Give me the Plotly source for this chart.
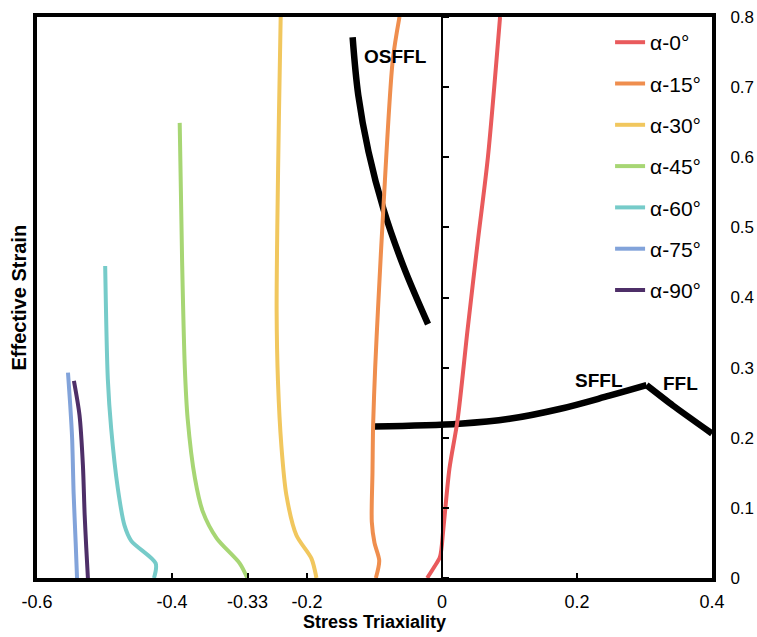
import plotly.graph_objects as go

# ---------------- data ----------------
names = ["α-0°", "α-15°", "α-30°", "α-45°", "α-60°", "α-75°", "α-90°"]
colors = ["#E95A5C", "#EF8E4E", "#F1C75E", "#A7D674", "#76CBC9", "#82A3DA", "#4E2F68"]

a0_x = [-0.022, -0.012, -0.003, 0.002, 0.011, 0.023, 0.038, 0.053, 0.068, 0.086]
a0_y = [0.0, 0.015, 0.03, 0.07, 0.156, 0.225, 0.355, 0.48, 0.6, 0.8]

a15_x = [-0.098, -0.093, -0.100, -0.104, -0.103, -0.102, -0.099, -0.095, -0.087, -0.073, -0.063]
a15_y = [0.0, 0.025, 0.05, 0.08, 0.15, 0.22, 0.30, 0.38, 0.525, 0.738, 0.8]

a30_x = [-0.186, -0.1935, -0.2157, -0.2305, -0.238, -0.243, -0.245, -0.244, -0.2415, -0.239]
a30_y = [0.0, 0.028, 0.061, 0.118, 0.189, 0.28, 0.38, 0.5, 0.664, 0.8]

a45_x = [-0.2884, -0.2997, -0.334, -0.3545, -0.366, -0.3768, -0.381, -0.385, -0.3886]
a45_y = [0.0, 0.021, 0.057, 0.095, 0.142, 0.227, 0.30, 0.45, 0.649]

a60_x = [-0.4267, -0.4242, -0.4604, -0.4704, -0.4803, -0.4901, -0.4951, -0.499]
a60_y = [0.0, 0.021, 0.053, 0.075, 0.128, 0.213, 0.284, 0.445]

a75_x = [-0.5407, -0.5427, -0.5457, -0.548, -0.551, -0.5541]
a75_y = [0.0, 0.05, 0.12, 0.2, 0.25, 0.293]

a90_x = [-0.5246, -0.527, -0.5294, -0.532, -0.537, -0.5453]
a90_y = [0.0, 0.043, 0.09, 0.161, 0.232, 0.281]

osffl_x = [-0.1324, -0.1241, -0.1089, -0.0867, -0.0569, -0.0207]
osffl_y = [0.771, 0.689, 0.608, 0.526, 0.444, 0.362]

sffl_x = [-0.100, 0.026, 0.100, 0.174, 0.248, 0.303]
sffl_y = [0.216, 0.220, 0.227, 0.241, 0.260, 0.275]

ffl_x = [0.303, 0.342, 0.400]
ffl_y = [0.275, 0.246, 0.206]

x_tickvals = [-0.6, -0.4, -0.288, -0.2, 0, 0.2, 0.4]
x_ticktext = ["-0.6", "-0.4", "-0.33", "-0.2", "0", "0.2", "0.4"]
y_tickvals = [0, 0.1, 0.2, 0.3, 0.4, 0.5, 0.6, 0.7, 0.8]
y_ticktext = ["0", "0.1", "0.2", "0.3", "0.4", "0.5", "0.6", "0.7", "0.8"]

series_x = [a0_x, a15_x, a30_x, a45_x, a60_x, a75_x, a90_x]
series_y = [a0_y, a15_y, a30_y, a45_y, a60_y, a75_y, a90_y]

FONT = "Arial, Liberation Sans, sans-serif"

fig = go.Figure()

# black forming limit curves (drawn first, under coloured lines)
fig.add_trace(go.Scatter(x=osffl_x, y=osffl_y, mode="lines", showlegend=False,
                         line=dict(color="black", width=6.5, shape="spline", smoothing=1.0)))
fig.add_trace(go.Scatter(x=sffl_x, y=sffl_y, mode="lines", showlegend=False,
                         line=dict(color="black", width=6.5, shape="spline", smoothing=1.0)))
fig.add_trace(go.Scatter(x=ffl_x, y=ffl_y, mode="lines", showlegend=False,
                         line=dict(color="black", width=6.5, shape="spline", smoothing=0.6)))

# zero line (x = 0) carried by a secondary axis which provides the ticks
fig.add_trace(go.Scatter(x=[0, 0], y=[0, 0.8], mode="lines", showlegend=False, yaxis="y2",
                         line=dict(color="black", width=1.5), hoverinfo="skip"))

for n, xs, ys, c in zip(names, series_x, series_y, colors):
    fig.add_trace(go.Scatter(x=xs, y=ys, mode="lines", name=n, legendgroup=n,
                             line=dict(color=c, width=4, shape="spline", smoothing=0.8)))

fig.add_annotation(x=-0.069, y=0.743, text="<b>OSFFL</b>", showarrow=False,
                   font=dict(family=FONT, size=19, color="black"))
fig.add_annotation(x=0.232, y=0.281, text="<b>SFFL</b>", showarrow=False,
                   font=dict(family=FONT, size=19, color="black"))
fig.add_annotation(x=0.353, y=0.278, text="<b>FFL</b>", showarrow=False,
                   font=dict(family=FONT, size=19, color="black"))
fig.add_annotation(x=0, y=0.5, xref="paper", yref="paper", xshift=-19, xanchor="center",
                   yanchor="middle", text="<b>Effective Strain</b>",
                   textangle=-90, showarrow=False, font=dict(family=FONT, size=20, color="black"))

fig.update_layout(
    width=757, height=637,
    margin=dict(l=37, r=45, t=17, b=59, autoexpand=False),
    paper_bgcolor="white", plot_bgcolor="white",
    font=dict(family=FONT, size=18, color="black"),
    xaxis=dict(range=[-0.6, 0.4], tickvals=x_tickvals, ticktext=x_ticktext, automargin=False,
               ticks="inside", ticklen=5, tickwidth=1.5, tickcolor="black",
               showline=True, linewidth=4, linecolor="black", mirror=True,
               showgrid=False, zeroline=False, ticklabelstandoff=4,
               title=dict(text="<b>Stress Triaxiality</b>", font=dict(size=18), standoff=4)),
    yaxis=dict(range=[0, 0.8], tickvals=y_tickvals, ticktext=y_ticktext, side="right",
               automargin=False, tickfont=dict(size=17),
               ticks="", showline=True, linewidth=4, linecolor="black", mirror=True,
               showgrid=False, zeroline=False, ticklabelstandoff=11),
    yaxis2=dict(range=[0, 0.8], overlaying="y", anchor="free", position=0.6, side="right",
                automargin=False,
                tickvals=y_tickvals, ticks="outside", ticklen=6, tickwidth=1.5, tickcolor="black",
                showticklabels=False, showline=True, linewidth=1.5, linecolor="black",
                showgrid=False, zeroline=False),
    legend=dict(x=0.849, y=0.991, xanchor="left", yanchor="top", bgcolor="rgba(0,0,0,0)",
                font=dict(family=FONT, size=21), tracegroupgap=11),
    showlegend=True,
)

fig.write_html("out.html", config={"displayModeBar": False},
               post_script="document.body.style.margin='0';")
